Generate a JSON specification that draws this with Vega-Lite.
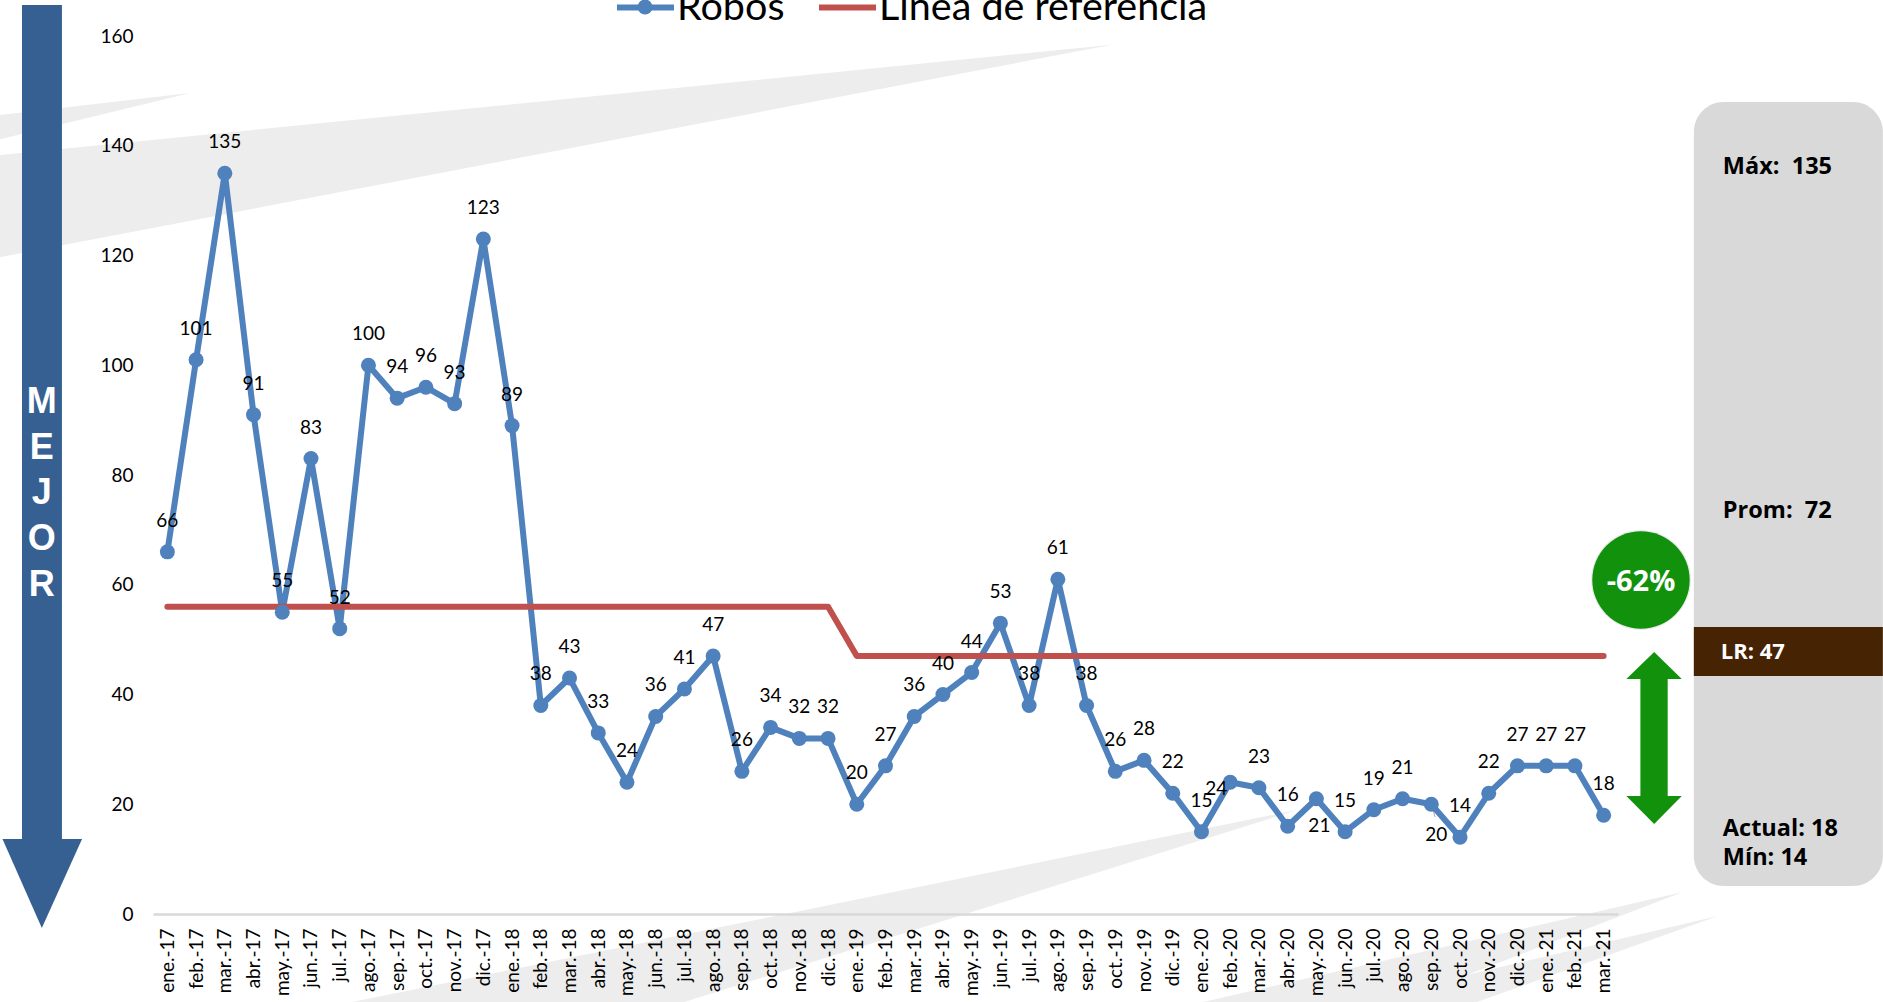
{
"$schema":"https://vega.github.io/schema/vega-lite/v6.json",
"width":1465,"height":878,
"autosize":{"type":"none"},
"padding":{"left":153,"top":36,"right":265,"bottom":88},
"background":"#ffffff",
"config":{"view":{"stroke":null},"font":"Lato","axisY":{"ticks":false,"domain":false,"grid":false,"labelFont":"Lato","labelFontSize":19,"labelColor":"#000000","labelPadding":20}},
"datasets":{
"serie":[
{"mes":"ene.-17","Robos":66,"Línea de referencia":56},{"mes":"feb.-17","Robos":101,"Línea de referencia":56},{"mes":"mar.-17","Robos":135,"Línea de referencia":56},{"mes":"abr.-17","Robos":91,"Línea de referencia":56},{"mes":"may.-17","Robos":55,"Línea de referencia":56},{"mes":"jun.-17","Robos":83,"Línea de referencia":56},{"mes":"jul.-17","Robos":52,"Línea de referencia":56},{"mes":"ago.-17","Robos":100,"Línea de referencia":56},{"mes":"sep.-17","Robos":94,"Línea de referencia":56},{"mes":"oct.-17","Robos":96,"Línea de referencia":56},{"mes":"nov.-17","Robos":93,"Línea de referencia":56},{"mes":"dic.-17","Robos":123,"Línea de referencia":56},
{"mes":"ene.-18","Robos":89,"Línea de referencia":56},{"mes":"feb.-18","Robos":38,"Línea de referencia":56},{"mes":"mar.-18","Robos":43,"Línea de referencia":56},{"mes":"abr.-18","Robos":33,"Línea de referencia":56},{"mes":"may.-18","Robos":24,"Línea de referencia":56},{"mes":"jun.-18","Robos":36,"Línea de referencia":56},{"mes":"jul.-18","Robos":41,"Línea de referencia":56},{"mes":"ago.-18","Robos":47,"Línea de referencia":56},{"mes":"sep.-18","Robos":26,"Línea de referencia":56},{"mes":"oct.-18","Robos":34,"Línea de referencia":56},{"mes":"nov.-18","Robos":32,"Línea de referencia":56},{"mes":"dic.-18","Robos":32,"Línea de referencia":56},
{"mes":"ene.-19","Robos":20,"Línea de referencia":47},{"mes":"feb.-19","Robos":27,"Línea de referencia":47},{"mes":"mar.-19","Robos":36,"Línea de referencia":47},{"mes":"abr.-19","Robos":40,"Línea de referencia":47},{"mes":"may.-19","Robos":44,"Línea de referencia":47},{"mes":"jun.-19","Robos":53,"Línea de referencia":47},{"mes":"jul.-19","Robos":38,"Línea de referencia":47},{"mes":"ago.-19","Robos":61,"Línea de referencia":47},{"mes":"sep.-19","Robos":38,"Línea de referencia":47},{"mes":"oct.-19","Robos":26,"Línea de referencia":47},{"mes":"nov.-19","Robos":28,"Línea de referencia":47},{"mes":"dic.-19","Robos":22,"Línea de referencia":47},
{"mes":"ene.-20","Robos":15,"Línea de referencia":47},{"mes":"feb.-20","Robos":24,"Línea de referencia":47},{"mes":"mar.-20","Robos":23,"Línea de referencia":47},{"mes":"abr.-20","Robos":16,"Línea de referencia":47},{"mes":"may.-20","Robos":21,"Línea de referencia":47},{"mes":"jun.-20","Robos":15,"Línea de referencia":47},{"mes":"jul.-20","Robos":19,"Línea de referencia":47},{"mes":"ago.-20","Robos":21,"Línea de referencia":47},{"mes":"sep.-20","Robos":20,"Línea de referencia":47},{"mes":"oct.-20","Robos":14,"Línea de referencia":47},{"mes":"nov.-20","Robos":22,"Línea de referencia":47},{"mes":"dic.-20","Robos":27,"Línea de referencia":47},
{"mes":"ene.-21","Robos":27,"Línea de referencia":47},{"mes":"feb.-21","Robos":27,"Línea de referencia":47},{"mes":"mar.-21","Robos":18,"Línea de referencia":47}
],
"estelas":[
{"forma":"a","x":-5.83,"y":145.6,"y2":141.2},{"forma":"a","x":0.79,"y":149.6,"y2":149.6},
{"forma":"b","x":-5.83,"y":138.3,"y2":119.7},{"forma":"b","x":32.88,"y":158.4,"y2":158.4},
{"forma":"c","x":6.43,"y":-16.04,"y2":-16.04},{"forma":"c","x":17.99,"y":-3.74,"y2":-16.04},{"forma":"c","x":39.33,"y":18.95,"y2":18.95},
{"forma":"d","x":36.05,"y":-16.04,"y2":-16.04},{"forma":"d","x":42.8,"y":-7.95,"y2":-16.04},{"forma":"d","x":52.76,"y":4.01,"y2":4.01},
{"forma":"e","x":41.24,"y":-16.04,"y2":-16.04},{"forma":"e","x":45.59,"y":-10.68,"y2":-16.04},{"forma":"e","x":53.98,"y":-0.36,"y2":-0.36}
],
"puntasVerdes":[
{"forma":"arriba","x":50.79,"y":42.82,"y2":42.82},{"forma":"arriba","x":51.76,"y":47.74,"y2":42.82},{"forma":"arriba","x":52.72,"y":42.82,"y2":42.82},
{"forma":"abajo","x":50.79,"y":21.5,"y2":21.5},{"forma":"abajo","x":51.76,"y":21.5,"y2":16.4},{"forma":"abajo","x":52.72,"y":21.5,"y2":21.5}
],
"puntaAzul":[
{"forma":"abajo","x":-5.74,"y":13.67,"y2":13.67},{"forma":"abajo","x":-4.37,"y":13.67,"y2":-2.55},{"forma":"abajo","x":-2.97,"y":13.67,"y2":13.67}
],
"paneles":[{"x":53.14,"x2":59.72,"y":147.97,"y2":5.1}],
"bandaLR":[{"x":53.14,"x2":59.72,"y":52.3,"y2":43.37}],
"cuerpoVerde":[{"x":51.28,"x2":52.23,"y":42.82,"y2":21.5}],
"cuerpoAzul":[{"x":-5.06,"x2":-3.67,"y":165.65,"y2":13.67}],
"circulo":[{"x":51.3,"y":60.87}],
"marcaLeyenda":[{"x":16.63,"y":165.28}],
"guia":[{"x":44.01,"x2":44.13,"y":19.86,"y2":17.68}],
"textosPanel":[
{"t":"Máx:\u00a0\u00a0135","x":54.15,"y":134.85},
{"t":"Prom:\u00a0\u00a072","x":54.15,"y":72.16},
{"t":"Actual:\u00a018","x":54.15,"y":14.21},
{"t":"Mín:\u00a014","x":54.15,"y":8.93}
],
"textoLR":[{"t":"LR: 47","x":54.08,"y":46.47}],
"textoCirculo":[{"t":"-62%","x":51.3,"y":58.86}],
"mejor":[
{"t":"M","x":-4.37,"y":91.3},{"t":"E","x":-4.37,"y":82.92},{"t":"J","x":-4.37,"y":74.72},{"t":"O","x":-4.37,"y":66.33},{"t":"R","x":-4.37,"y":57.95}
]
},
"resolve":{"scale":{"x":"independent"}},
"layer":[
{
"encoding":{
"x":{"field":"x","type":"quantitative","scale":{"domain":[-0.5,50.5],"nice":false,"zero":false},"axis":null},
"y":{"field":"y","type":"quantitative","scale":{"domain":[0,160],"nice":false},"axis":{"title":null,"values":[0,20,40,60,80,100,120,140,160],"zindex":1}}
},
"layer":[
{"data":{"name":"estelas"},"mark":{"type":"area","orient":"vertical","color":"#EDEDED"},"encoding":{"y2":{"field":"y2"},"detail":{"field":"forma"}}},
{"data":{"name":"paneles"},"mark":{"type":"rect","color":"#D9D9D9","cornerRadius":30},"encoding":{"x2":{"field":"x2"},"y2":{"field":"y2"}}},
{"data":{"name":"bandaLR"},"mark":{"type":"rect","color":"#462303"},"encoding":{"x2":{"field":"x2"},"y2":{"field":"y2"}}},
{"data":{"name":"cuerpoAzul"},"mark":{"type":"rect","color":"#366092"},"encoding":{"x2":{"field":"x2"},"y2":{"field":"y2"}}},
{"data":{"name":"puntaAzul"},"mark":{"type":"area","orient":"vertical","color":"#366092"},"encoding":{"y2":{"field":"y2"},"detail":{"field":"forma"}}},
{"data":{"name":"cuerpoVerde"},"mark":{"type":"rect","color":"#11910C"},"encoding":{"x2":{"field":"x2"},"y2":{"field":"y2"}}},
{"data":{"name":"puntasVerdes"},"mark":{"type":"area","orient":"vertical","color":"#11910C"},"encoding":{"y2":{"field":"y2"},"detail":{"field":"forma"}}},
{"data":{"name":"circulo"},"mark":{"type":"point","filled":true,"opacity":0.08,"color":"#000000","size":10000}},
{"data":{"name":"circulo"},"mark":{"type":"point","filled":true,"opacity":1,"color":"#11910C","size":9487}},
{"data":{"name":"guia"},"mark":{"type":"rule","color":"#A6A6A6","strokeWidth":1},"encoding":{"x2":{"field":"x2"},"y2":{"field":"y2"}}},
{"data":{"name":"textosPanel"},"mark":{"type":"text","font":"Open Sans","fontWeight":"bold","fontSize":23.5,"align":"left","baseline":"alphabetic","color":"#000000"},"encoding":{"text":{"field":"t"}}},
{"data":{"name":"textoLR"},"mark":{"type":"text","font":"Open Sans","fontWeight":"bold","fontSize":22,"align":"left","baseline":"alphabetic","color":"#ffffff"},"encoding":{"text":{"field":"t"}}},
{"data":{"name":"textoCirculo"},"mark":{"type":"text","font":"Open Sans","fontWeight":"bold","fontSize":29,"align":"center","baseline":"alphabetic","color":"#ffffff"},"encoding":{"text":{"field":"t"}}},
{"data":{"name":"mejor"},"mark":{"type":"text","font":"Liberation Sans","fontWeight":"bold","fontSize":36,"align":"center","baseline":"alphabetic","color":"#ffffff"},"encoding":{"text":{"field":"t"}}}
]
},
{
"data":{"name":"serie"},
"transform":[{"fold":["Robos","Línea de referencia"],"as":["serie","valor"]}],
"encoding":{
"x":{"field":"mes","type":"nominal","sort":null,"scale":{"type":"point","padding":0.5},
"axis":{"title":null,"orient":"bottom","labelAngle":-90,"labelAlign":"right","labelBaseline":"middle","labelFont":"Lato","labelFontSize":19,"labelColor":"#000000","labelPadding":14,"ticks":false,"domainColor":"#D9D9D9","domainWidth":2.5,"labelOverlap":false,"grid":false,"zindex":1}},
"y":{"field":"valor","type":"quantitative","scale":{"domain":[0,160],"nice":false},
"axis":{"title":null,"values":[0,20,40,60,80,100,120,140,160],"zindex":1}}
},
"layer":[
{"mark":{"type":"line","strokeWidth":6,"strokeCap":"round","strokeJoin":"round"},
"encoding":{"color":{"field":"serie","type":"nominal","scale":{"domain":["Robos","Línea de referencia"],"range":["#4F81BD","#C0504D"]},
"legend":{"title":null,"orient":"none","legendX":461,"legendY":-60,"direction":"horizontal","columns":2,"symbolType":"stroke","symbolSize":3249,"symbolStrokeWidth":6,"labelFont":"Lato","labelFontSize":39.5,"labelColor":"#000000","labelOffset":0,"labelLimit":600,"columnPadding":22,"symbolLimit":2}}}},
{"transform":[{"filter":"datum.serie === 'Robos'"}],"mark":{"type":"point","filled":true,"opacity":1,"size":225,"color":"#4F81BD"}},
{"transform":[{"filter":"datum.serie === 'Robos' && datum.mes !== 'feb.-20' && datum.mes !== 'may.-20' && datum.mes !== 'sep.-20'"}],"mark":{"type":"text","font":"Lato","fontSize":19,"color":"#000000","dy":-31},"encoding":{"text":{"field":"valor","type":"quantitative"}}},
{"transform":[{"filter":"datum.serie === 'Robos' && datum.mes === 'feb.-20'"}],"mark":{"type":"text","font":"Lato","fontSize":19,"color":"#000000","dx":-14,"dy":7},"encoding":{"text":{"field":"valor","type":"quantitative"}}},
{"transform":[{"filter":"datum.serie === 'Robos' && datum.mes === 'may.-20'"}],"mark":{"type":"text","font":"Lato","fontSize":19,"color":"#000000","dx":3,"dy":27},"encoding":{"text":{"field":"valor","type":"quantitative"}}},
{"transform":[{"filter":"datum.serie === 'Robos' && datum.mes === 'sep.-20'"}],"mark":{"type":"text","font":"Lato","fontSize":19,"color":"#000000","dx":5,"dy":31},"encoding":{"text":{"field":"valor","type":"quantitative"}}}
]
},
{
"data":{"name":"marcaLeyenda"},
"mark":{"type":"point","filled":true,"opacity":1,"size":225,"color":"#4F81BD"},
"encoding":{
"x":{"field":"x","type":"quantitative","scale":{"domain":[-0.5,50.5],"nice":false,"zero":false},"axis":null},
"y":{"field":"y","type":"quantitative","scale":{"domain":[0,160],"nice":false},"axis":{"title":null,"values":[0,20,40,60,80,100,120,140,160],"zindex":1}}
}
}
]
}
